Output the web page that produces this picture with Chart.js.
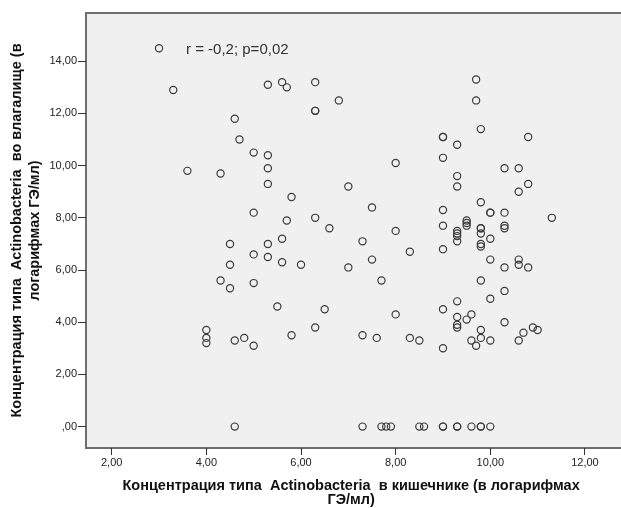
<!DOCTYPE html>
<html>
<head>
<meta charset="utf-8">
<script src="https://cdn.jsdelivr.net/npm/chart.js@4"></script>
<style>
  body { margin: 0; background: #fff; }
  #wrap { width: 621px; height: 508px; }
</style>
</head>
<body>
<div id="wrap"><canvas id="scatterChart" width="621" height="508"></canvas></div>
<script>
// Значения (кишечник / влагалище, логарифмы ГЭ/мл)
const xValues = [
  3.0, 3.3, 3.6, 4.3, 4.6, 4.7, 5.0, 5.3, 5.6, 5.7, 6.3, 6.3, 6.3, 6.8,
  5.3, 5.3, 5.3, 5.8, 5.0, 5.7, 6.3, 6.6, 5.6, 4.5, 5.3, 5.0, 5.3, 4.5,
  5.6, 6.0, 4.3, 4.5, 5.0, 5.5, 6.5, 6.3, 5.8, 4.0, 4.0, 4.0, 4.6, 4.8,
  5.0, 7.0, 7.0, 7.5, 7.3, 7.5, 7.7, 7.3, 7.6, 8.0, 8.0, 8.3, 8.0, 8.3,
  8.5, 9.0, 9.0, 9.0, 9.0, 9.0, 9.0, 9.0, 9.0, 9.3, 9.3, 9.3, 9.3, 9.3,
  9.3, 9.3, 9.3, 9.3, 9.3, 9.3, 9.5, 9.5, 9.5, 9.5, 9.6, 9.6, 9.7, 9.7,
  9.7, 9.8, 9.8, 9.8, 9.8, 9.8, 9.8, 9.8, 9.8, 9.8, 9.8, 10.0, 10.0, 10.0,
  10.0, 10.0, 10.0, 10.3, 10.3, 10.3, 10.3, 10.3, 10.3, 10.3, 10.6, 10.6, 10.6, 10.6,
  10.6, 10.7, 10.8, 10.8, 10.8, 10.9, 11.0, 11.3,
  4.6, 7.3, 7.7, 7.8, 7.9, 8.5, 8.6, 9.0, 9.0, 9.3, 9.3, 9.6, 9.8, 9.8, 10.0
];
const yValues = [
  14.5, 12.9, 9.8, 9.7, 11.8, 11.0, 10.5, 13.1, 13.2, 13.0, 13.2, 12.1, 12.1, 12.5,
  10.4, 9.9, 9.3, 8.8, 8.2, 7.9, 8.0, 7.6, 7.2, 7.0, 7.0, 6.6, 6.5, 6.2,
  6.3, 6.2, 5.6, 5.3, 5.5, 4.6, 4.5, 3.8, 3.5, 3.7, 3.4, 3.2, 3.3, 3.4,
  3.1, 9.2, 6.1, 8.4, 7.1, 6.4, 5.6, 3.5, 3.4, 10.1, 7.5, 6.7, 4.3, 3.4,
  3.3, 11.1, 11.1, 10.3, 8.3, 7.7, 6.8, 4.5, 3.0, 10.8, 9.6, 9.2, 7.5, 7.4,
  7.3, 7.1, 4.8, 4.2, 3.9, 3.8, 7.9, 7.8, 7.7, 4.1, 4.3, 3.3, 13.3, 12.5,
  3.1, 11.4, 8.6, 7.6, 7.6, 7.4, 7.0, 6.9, 5.6, 3.7, 3.4, 8.2, 8.2, 7.2,
  6.4, 4.9, 3.3, 9.9, 8.2, 7.7, 7.6, 6.1, 5.2, 4.0, 9.9, 9.0, 6.4, 6.2,
  3.3, 3.6, 11.1, 9.3, 6.1, 3.8, 3.7, 8.0,
  0, 0, 0, 0, 0, 0, 0, 0, 0, 0, 0, 0, 0, 0, 0
];

const xTicks = [2, 4, 6, 8, 10, 12];
const xTickLabels = ['2,00', '4,00', '6,00', '8,00', '10,00', '12,00'];
const yTicks = [0, 2, 4, 6, 8, 10, 12, 14];
const yTickLabels = [',00', '2,00', '4,00', '6,00', '8,00', '10,00', '12,00', '14,00'];

const statText = 'r = -0,2; p=0,02';
const statPos = [3.57, 14.43];

const xTitle = ['Концентрация типа  Actinobacteria  в кишечнике (в логарифмах', 'ГЭ/мл)'];
const yTitle = ['Концентрация типа  Actinobacteria  во влагалище (в', 'логарифмах ГЭ/мл)'];

const puntos = xValues.map((x, i) => ({ x: x, y: yValues[i] }));

// фон и рамка области построения, как в SPSS (справа рамка обрезана)
const fondo = {
  id: 'fondo',
  beforeDraw(chart) {
    const { ctx, chartArea: a, width } = chart;
    ctx.save();
    ctx.fillStyle = '#f0f0f0';
    ctx.fillRect(a.left, a.top, width - a.left, a.bottom - a.top);
    ctx.strokeStyle = '#6e6e6e';
    ctx.lineWidth = 2;
    ctx.beginPath();
    ctx.moveTo(width, a.top);
    ctx.lineTo(a.left, a.top);
    ctx.lineTo(a.left, a.bottom);
    ctx.lineTo(width, a.bottom);
    ctx.stroke();
    ctx.restore();
  },
  afterDatasetsDraw(chart) {
    const { ctx, scales } = chart;
    ctx.save();
    ctx.font = '15px "Liberation Sans", Arial, sans-serif';
    ctx.fillStyle = '#333';
    ctx.textAlign = 'left';
    ctx.textBaseline = 'middle';
    ctx.fillText(statText, scales.x.getPixelForValue(statPos[0]), scales.y.getPixelForValue(statPos[1]));
    ctx.restore();
  }
};

const ctx = document.getElementById('scatterChart').getContext('2d');

new Chart(ctx, {
  type: 'scatter',
  data: {
    datasets: [{
      data: puntos,
      pointRadius: 3.6,
      pointHoverRadius: 3.6,
      pointBorderWidth: 1.2,
      borderColor: '#3a3a3a',
      backgroundColor: 'rgba(0,0,0,0)'
    }]
  },
  options: {
    responsive: false,
    animation: false,
    layout: { padding: { top: 13, right: 0, left: 0, bottom: 0 } },
    plugins: {
      legend: { display: false },
      tooltip: { enabled: false }
    },
    scales: {
      x: {
        type: 'linear',
        min: 1.457,
        max: 12.66,
        afterBuildTicks: (s) => { s.ticks = xTicks.map(v => ({ value: v })); },
        afterFit: (s) => { s.height = 60; s.paddingLeft = 0; s.paddingRight = 0; },
        border: { display: false },
        grid: { drawOnChartArea: false, drawTicks: true, tickLength: 7, color: '#333', lineWidth: 1 },
        ticks: {
          padding: 1,
          color: '#222',
          font: { family: '"Liberation Sans", Arial, sans-serif', size: 11 },
          callback: (v) => xTickLabels[xTicks.indexOf(v)]
        },
        title: {
          display: true,
          text: xTitle,
          color: '#111',
          padding: { top: 0, bottom: 1 },
          font: { family: '"Liberation Sans", Arial, sans-serif', size: 14.5, weight: 'bold', lineHeight: 0.97 }
        }
      },
      y: {
        type: 'linear',
        min: -0.82,
        max: 15.85,
        afterBuildTicks: (s) => { s.ticks = yTicks.map(v => ({ value: v })); },
        afterFit: (s) => { s.width = 86; s.paddingTop = 0; s.paddingBottom = 0; },
        border: { display: false },
        grid: { drawOnChartArea: false, drawTicks: true, tickLength: 8, color: '#333', lineWidth: 1 },
        ticks: {
          padding: 1,
          color: '#222',
          font: { family: '"Liberation Sans", Arial, sans-serif', size: 11 },
          callback: (v) => yTickLabels[yTicks.indexOf(v)]
        },
        title: {
          display: true,
          text: yTitle,
          color: '#111',
          padding: { top: 8, bottom: 0 },
          font: { family: '"Liberation Sans", Arial, sans-serif', size: 14.5, weight: 'bold', lineHeight: 1.24 }
        }
      }
    }
  },
  plugins: [fondo]
});
</script>
</body>
</html>
